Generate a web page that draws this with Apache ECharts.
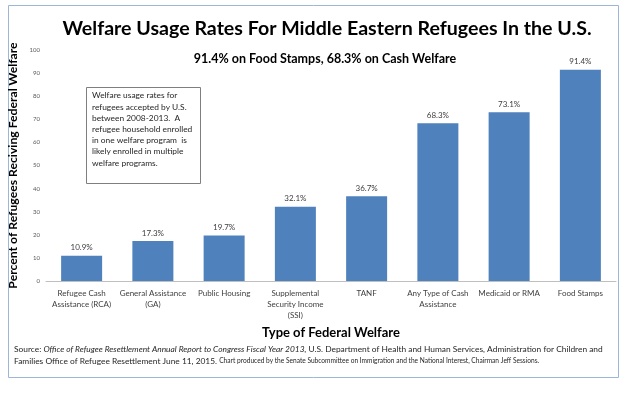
<!DOCTYPE html>
<html>
<head>
<meta charset="utf-8">
<script src="https://cdn.jsdelivr.net/npm/echarts@6/dist/echarts.min.js"></script>
<style>
  html, body { margin: 0; padding: 0; background: #fff; }
  #chart { width: 628px; height: 399px; }
</style>
</head>
<body>
<div id="chart"></div>
<script>
const categories = [
  'Refugee Cash\nAssistance (RCA)',
  'General Assistance\n(GA)',
  'Public Housing',
  'Supplemental\nSecurity Income\n(SSI)',
  'TANF',
  'Any Type of Cash\nAssistance',
  'Medicaid or RMA',
  'Food Stamps'
];
const usageRates = [10.9, 17.3, 19.7, 32.1, 36.7, 68.3, 73.1, 91.4];
const noteLines = [
  'Welfare usage rates for',
  'refugees accepted by U.S.',
  'between 2008-2013.  A',
  'refugee household enrolled',
  'in one welfare program  is',
  'likely enrolled in multiple',
  'welfare programs.'
];

const font = 'Lato, "Open Sans", sans-serif';
const chart = echarts.init(document.getElementById('chart'));

const option = {
  animation: false,
  textStyle: { fontFamily: font },
  title: [
    {
      text: 'Welfare Usage Rates For Middle Eastern Refugees In the U.S.',
      left: 322, top: 14, textAlign: 'center',
      textStyle: { fontSize: 19.6, fontWeight: 'bold', color: '#000', fontFamily: font }
    },
    {
      text: '91.4% on Food Stamps, 68.3% on Cash Welfare',
      left: 320, top: 47, textAlign: 'center',
      textStyle: { fontSize: 12.5, fontWeight: 'bold', color: '#000', fontFamily: font }
    }
  ],
  grid: { left: 46, right: 12, top: 50, bottom: 118, outerBoundsMode: 'none' },
  xAxis: {
    type: 'category',
    data: categories,
    name: 'Type of Federal Welfare',
    nameLocation: 'middle',
    nameGap: 35,
    nameTextStyle: { fontSize: 13, fontWeight: 'bold', color: '#000' },
    axisLine: { lineStyle: { color: '#bfbfbf' } },
    axisTick: { show: false },
    axisLabel: { interval: 0, fontSize: 8, color: '#404040', lineHeight: 11, margin: 7 }
  },
  yAxis: {
    type: 'value',
    min: 0, max: 100, interval: 10,
    name: 'Percent of Refugees Reciving Federal Welfare',
    nameLocation: 'middle',
    nameGap: 22,
    nameTextStyle: { fontSize: 12.2, fontWeight: 'bold', color: '#000' },
    axisLine: { show: false },
    axisTick: { show: false },
    splitLine: { show: false },
    axisLabel: { fontSize: 6, color: '#595959', margin: 6 }
  },
  series: [{
    type: 'bar',
    data: usageRates,
    barWidth: 41,
    itemStyle: { color: '#4f81bd' },
    label: {
      show: true, position: 'top', fontSize: 8, color: '#404040', distance: 4,
      formatter: p => p.value.toFixed(1) + '%'
    }
  }],
  graphic: [
    {
      type: 'rect', silent: true, z: -1,
      shape: { x: 8.5, y: 5.5, width: 610, height: 372 },
      style: { fill: 'none', stroke: '#9db5d6', lineWidth: 1 }
    },
    {
      type: 'rect',
      shape: { x: 86.5, y: 87.5, width: 114, height: 96 },
      style: { fill: '#fff', stroke: '#7f7f7f', lineWidth: 1 }
    },
    {
      type: 'text', left: 92, top: 90,
      style: {
        text: noteLines.join('\n'),
        fontSize: 8.4, lineHeight: 11.2, fill: '#262626', fontFamily: font
      }
    },
    {
      type: 'text', left: 14, top: 345,
      style: {
        text: '{n|Source: }{i|Office of Refugee Resettlement Annual Report to Congress Fiscal Year 2013,}{n| U.S. Department of Health and Human Services, Administration for Children and}\n' +
              '{n|Families Office of Refugee Resettlement June 11, 2015. }{s|Chart produced by the Senate Subcommittee on Immigration and the National Interest, Chairman Jeff Sessions.}',
        fill: '#262626',
        rich: {
          n: { fontSize: 8.4, lineHeight: 12, fontFamily: font, fill: '#262626' },
          i: { fontSize: 8.4, lineHeight: 12, fontFamily: font, fontStyle: 'italic', fill: '#262626' },
          s: { fontSize: 6.6, lineHeight: 12, fontFamily: font, fill: '#262626' }
        }
      }
    }
  ]
};

chart.setOption(option);
</script>
</body>
</html>
